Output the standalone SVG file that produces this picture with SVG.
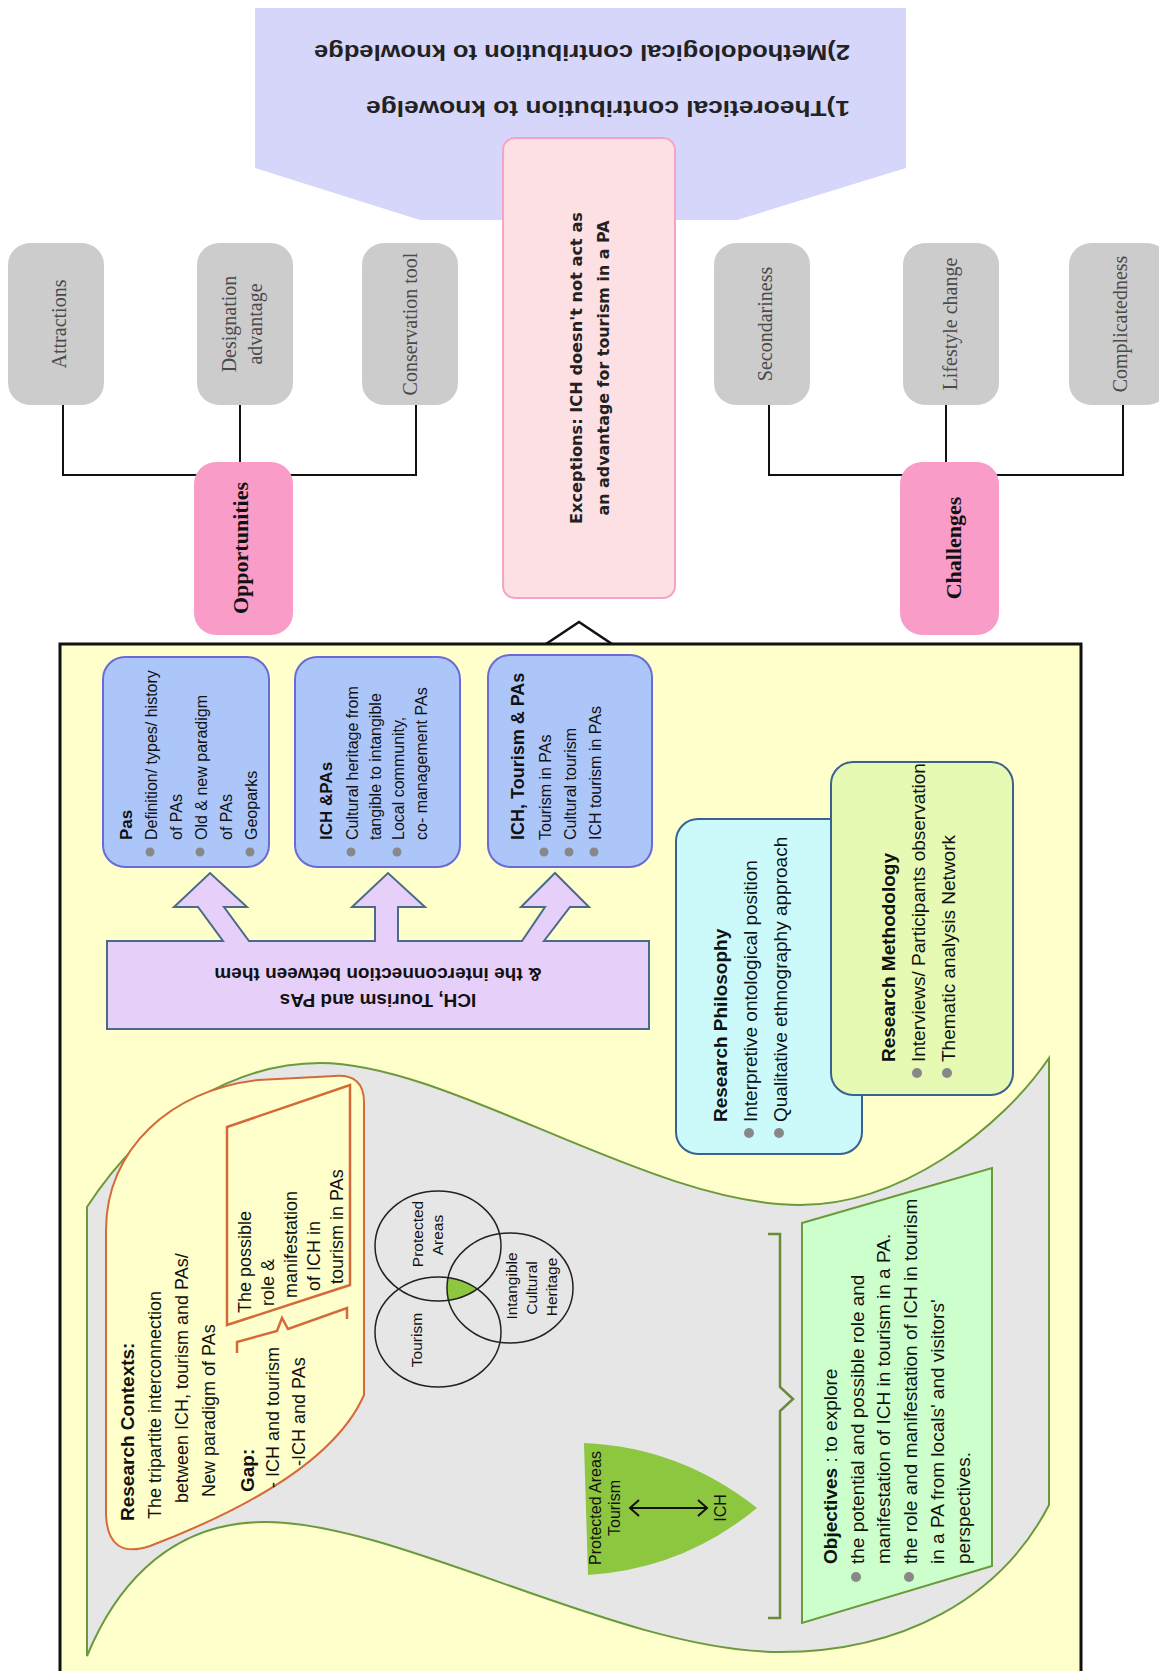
<svg xmlns="http://www.w3.org/2000/svg" width="1159" height="1671" viewBox="0 0 1159 1671">
<style>
.sans{font-family:'Liberation Sans',Arial,sans-serif;fill:#111;}
.b{font-weight:bold;}
.gbox{fill:#cccccc;}
.gtxt{font-family:'Liberation Serif','Times New Roman',serif;font-size:20px;fill:#4a4a4a;text-anchor:middle;}
.pbox{fill:#f99cc8;}
.ptxt{font-family:'Liberation Serif','Times New Roman',serif;font-size:22px;font-weight:bold;fill:#111;text-anchor:middle;}
.wire{fill:none;stroke:#111;stroke-width:2;}
.blue{fill:#adc6fa;stroke:#6a6ad8;stroke-width:2;}
.f16{font-size:16px;}
.f17{font-size:17px;}
.f18{font-size:18px;}
.f19{font-size:19px;}
.f15{font-size:15.5px;}
.mid{text-anchor:middle;}
.bul{fill:#888;}
.exc{font-family:'DejaVu Sans',Verdana,sans-serif;font-size:15px;font-weight:bold;fill:#222;text-anchor:middle;}
.top{font-family:'Liberation Sans',Arial,sans-serif;font-size:22px;font-weight:bold;fill:#222;}
.venn{fill:none;stroke:#222;stroke-width:1.5;}
</style>
<defs>
<marker id="ah" viewBox="0 0 10 10" refX="9" refY="5" markerWidth="6" markerHeight="6" orient="auto"><path d="M0,0 L10,5 L0,10 z" fill="#111"/></marker>
<clipPath id="cT"><ellipse cx="438" cy="1332" rx="63" ry="55"/></clipPath>
<clipPath id="cI"><ellipse cx="510" cy="1288" rx="63" ry="55"/></clipPath>
</defs>
<rect width="1159" height="1671" fill="#ffffff"/>

<!-- contributions banner -->
<g id="n-contributions">
<polygon points="255,8 906,8 906,168 737,220 420,220 255,168" fill="#d6d6fa"/>
<text class="top" transform="translate(850,45) rotate(180)" textLength="536" lengthAdjust="spacingAndGlyphs">2)Methodological contribution to knowledge</text>
<text class="top" transform="translate(850,101) rotate(180)" textLength="484" lengthAdjust="spacingAndGlyphs">1)Theoretical contribution to knowelge</text>
</g>

<!-- connectors -->
<g id="connectors">
<path class="wire" d="M63,405 V475 H416 V405 M240,405 V462"/>
<path class="wire" d="M769,405 V475 H1123 V405 M946,405 V462"/>
<line x1="465" y1="1290" x2="569" y2="1452" stroke="#111" stroke-width="2.5" marker-end="url(#ah)"/>
</g>

<!-- opportunity leaves -->
<g id="n-attractions"><rect class="gbox" x="8" y="243" width="96" height="162" rx="22"/><text class="gtxt" transform="translate(66,324) rotate(-90)">Attractions</text></g>
<g id="n-designation"><rect class="gbox" x="197" y="243" width="96" height="162" rx="22"/><text class="gtxt" transform="translate(236,324) rotate(-90)">Designation</text><text class="gtxt" transform="translate(262,324) rotate(-90)">advantage</text></g>
<g id="n-conservation"><rect class="gbox" x="362" y="243" width="96" height="162" rx="22"/><text class="gtxt" transform="translate(417,324) rotate(-90)">Conservation tool</text></g>
<!-- challenge leaves -->
<g id="n-secondariness"><rect class="gbox" x="714" y="243" width="96" height="162" rx="22"/><text class="gtxt" transform="translate(772,324) rotate(-90)">Secondariness</text></g>
<g id="n-lifestyle"><rect class="gbox" x="903" y="243" width="96" height="162" rx="22"/><text class="gtxt" transform="translate(957,324) rotate(-90)">Lifestyle change</text></g>
<g id="n-complicatedness"><rect class="gbox" x="1069" y="243" width="100" height="162" rx="22"/><text class="gtxt" transform="translate(1127,324) rotate(-90)">Complicatedness</text></g>

<g id="n-opportunities"><rect class="pbox" x="194" y="462" width="99" height="173" rx="22"/><text class="ptxt" transform="translate(248,548) rotate(-90)">Opportunities</text></g>
<g id="n-challenges"><rect class="pbox" x="900" y="462" width="99" height="173" rx="22"/><text class="ptxt" transform="translate(961,548) rotate(-90)">Challenges</text></g>

<g id="n-exceptions">
<rect x="503" y="138" width="172" height="460" rx="12" fill="#fde0e4" stroke="#f5a3c7" stroke-width="2"/>
<text class="exc" transform="translate(582,368) rotate(-90)" textLength="312" lengthAdjust="spacingAndGlyphs">Exceptions: ICH doesn't not act as</text>
<text class="exc" transform="translate(609,368) rotate(-90)" textLength="295" lengthAdjust="spacingAndGlyphs">an advantage for tourism in a PA</text>
</g>

<!-- research framework frame -->
<g id="n-framework">
<polygon points="543,646 579,622 615,646" fill="#ffffff" stroke="#111" stroke-width="2.5"/>
<rect x="60" y="644" width="1021" height="1100" fill="#ffffcc" stroke="#111" stroke-width="3"/>
</g>

<g id="n-interconnection">
<path d="M107,1029 V941 H223 L198,907 H174 L210,873 L247,907 H224 L249,941 H375 V907 H352 L388,873 L425,907 H398 V941 H522 L545,907 H521 L555,873 L589,907 H570 L544,941 H649 V1029 Z" fill="#e6d0fa" stroke="#4a6a8a" stroke-width="2"/>
<text class="sans b f19 mid" transform="translate(378,994) rotate(180)">ICH, Tourism and PAs</text>
<text class="sans b f19 mid" transform="translate(378,968) rotate(180)">&amp; the interconnection between them</text>
</g>

<g id="n-pas">
<rect class="blue" x="103" y="657" width="166" height="210" rx="22"/>
<text class="sans b f17" transform="translate(132,840) rotate(-90)">Pas</text>
<text class="sans f16" transform="translate(156.6,840) rotate(-90)">Definition/ types/ history</text>
<text class="sans f16" transform="translate(181.6,840) rotate(-90)">of PAs</text>
<text class="sans f16" transform="translate(206.6,840) rotate(-90)">Old &amp; new paradigm</text>
<text class="sans f16" transform="translate(231.6,840) rotate(-90)">of PAs</text>
<text class="sans f16" transform="translate(256.6,840) rotate(-90)">Geoparks</text>
<circle class="bul" cx="150" cy="852" r="4.5"/><circle class="bul" cx="200" cy="852" r="4.5"/><circle class="bul" cx="250" cy="852" r="4.5"/>
</g>
<g id="n-ich-pas">
<rect class="blue" x="295" y="657" width="165" height="210" rx="22"/>
<text class="sans b f17" transform="translate(332,840) rotate(-90)">ICH &amp;PAs</text>
<text class="sans f16" transform="translate(357.6,840) rotate(-90)">Cultural heritage from</text>
<text class="sans f16" transform="translate(380.6,840) rotate(-90)">tangible to intangible</text>
<text class="sans f16" transform="translate(403.6,840) rotate(-90)">Local community,</text>
<text class="sans f16" transform="translate(426.6,840) rotate(-90)">co- management PAs</text>
<circle class="bul" cx="351" cy="852" r="4.5"/><circle class="bul" cx="397" cy="852" r="4.5"/>
</g>
<g id="n-ich-tourism-pas">
<rect class="blue" x="488" y="655" width="164" height="212" rx="22"/>
<text class="sans b f18" transform="translate(524.3,840) rotate(-90)">ICH, Tourism &amp; PAs</text>
<text class="sans f16" transform="translate(550.6,840) rotate(-90)">Tourism in PAs</text>
<text class="sans f16" transform="translate(575.6,840) rotate(-90)">Cultural tourism</text>
<text class="sans f16" transform="translate(600.6,840) rotate(-90)">ICH tourism in PAs</text>
<circle class="bul" cx="544" cy="852" r="4.5"/><circle class="bul" cx="569" cy="852" r="4.5"/><circle class="bul" cx="594" cy="852" r="4.5"/>
</g>

<!-- wavy band holding context, venn and objectives -->
<g id="n-band">
<path d="M87,1207 C150,1110 240,1063 320,1063 C450,1063 650,1205 800,1205 C900,1205 1000,1130 1049,1058 L1049,1505 C1000,1600 900,1652 780,1652 C620,1652 400,1522 265,1522 C160,1522 110,1600 87,1656 Z" fill="#e6e6e6" stroke="#6a9a3a" stroke-width="2"/>
</g>

<g id="n-contexts">
<path d="M106,1230 C106,1150 170,1090 258,1080 L335,1076 Q364,1074 364,1102 L364,1395 C340,1450 270,1500 150,1546 Q108,1560 106,1515 Z" fill="#ffffcc" stroke="#d46a3a" stroke-width="2"/>
<polygon points="227,1127 350,1085 350,1285 227,1325" fill="none" stroke="#d46a3a" stroke-width="2.5"/>
<path d="M237,1353 L237,1342 L277,1331 L282,1318 L288,1329 L347,1308 L347,1319" fill="none" stroke="#d46a3a" stroke-width="2.5"/>
<text class="sans b f19" transform="translate(133.6,1521) rotate(-90)">Research Contexts:</text>
<text class="sans f18" transform="translate(161.3,1519) rotate(-90)">The tripartite interconnection</text>
<text class="sans f18" transform="translate(188.3,1503) rotate(-90)">between ICH, tourism and PAs/</text>
<text class="sans f18" transform="translate(215.3,1497) rotate(-90)">New paradigm of PAs</text>
<text class="sans b f19" transform="translate(253.6,1492) rotate(-90)">Gap:</text>
<text class="sans f18" transform="translate(279.3,1488) rotate(-90)">- ICH and tourism</text>
<text class="sans f18" transform="translate(305.3,1466) rotate(-90)">-ICH and PAs</text>
<text class="sans f18" transform="translate(251.3,1313) rotate(-90)">The possible</text>
<text class="sans f18" transform="translate(274.3,1306) rotate(-90)">role &amp;</text>
<text class="sans f18" transform="translate(297.3,1298) rotate(-90)">manifestation</text>
<text class="sans f18" transform="translate(320.3,1291) rotate(-90)">of ICH in</text>
<text class="sans f18" transform="translate(343.3,1284) rotate(-90)">tourism in PAs</text>
</g>

<g id="n-venn">
<g clip-path="url(#cT)"><g clip-path="url(#cI)"><ellipse cx="438" cy="1246" rx="63" ry="55" fill="#8dc63f"/></g></g>
<ellipse class="venn" cx="438" cy="1246" rx="63" ry="55"/>
<ellipse class="venn" cx="438" cy="1332" rx="63" ry="55"/>
<ellipse class="venn" cx="510" cy="1288" rx="63" ry="55"/>
<text class="sans f15 mid" transform="translate(423.4,1234) rotate(-90)">Protected</text>
<text class="sans f15 mid" transform="translate(443.4,1235) rotate(-90)">Areas</text>
<text class="sans f15 mid" transform="translate(422.4,1340) rotate(-90)">Tourism</text>
<text class="sans f15 mid" transform="translate(517.4,1286) rotate(-90)">Intangible</text>
<text class="sans f15 mid" transform="translate(537.4,1288) rotate(-90)">Cultural</text>
<text class="sans f15 mid" transform="translate(557.4,1287) rotate(-90)">Heritage</text>
</g>

<g id="n-overlap">
<path d="M584,1443 Q680,1447 757,1508 Q683,1569 588,1575 Z" fill="#8dc63f"/>
<text class="sans f16 mid" transform="translate(600.6,1508) rotate(-90)">Protected Areas</text>
<text class="sans f16 mid" transform="translate(619.6,1508) rotate(-90)">Tourism</text>
<text class="sans f16 mid" transform="translate(725.6,1508) rotate(-90)">ICH</text>
<path d="M630,1508 H707 M639,1500 L630,1508 L639,1516 M698,1500 L707,1508 L698,1516" fill="none" stroke="#111" stroke-width="2"/>
</g>

<g id="n-brace">
<path d="M768,1234 H780 V1387 L793,1399 L780,1411 V1618 H768" fill="none" stroke="#6a8a3a" stroke-width="2.5"/>
</g>

<g id="n-objectives">
<polygon points="802,1223 992,1168 992,1566 802,1623" fill="#ccffcc" stroke="#6a9a3a" stroke-width="2"/>
<text class="sans f19" transform="translate(836.6,1564) rotate(-90)"><tspan class="b">Objectives</tspan> : to explore</text>
<text class="sans f19" transform="translate(863.6,1564) rotate(-90)">the potential and possible role and</text>
<text class="sans f19" transform="translate(889.6,1564) rotate(-90)">manifestation of ICH in tourism in a PA.</text>
<text class="sans f19" transform="translate(916.6,1564) rotate(-90)">the role and manifestation of ICH in tourism</text>
<text class="sans f19" transform="translate(943.6,1564) rotate(-90)">in a PA from locals' and visitors'</text>
<text class="sans f19" transform="translate(969.6,1564) rotate(-90)">perspectives.</text>
<circle class="bul" cx="856" cy="1577" r="5"/><circle class="bul" cx="909" cy="1577" r="5"/>
</g>

<g id="n-philosophy">
<rect x="676" y="819" width="186" height="335" rx="22" fill="#ccfafa" stroke="#3a6290" stroke-width="2"/>
<text class="sans b f19" transform="translate(726.6,1122) rotate(-90)">Research Philosophy</text>
<text class="sans f19" transform="translate(756.6,1122) rotate(-90)">Interpretive ontological position</text>
<text class="sans f19" transform="translate(786.6,1122) rotate(-90)">Qualitative ethnography approach</text>
<circle class="bul" cx="749" cy="1133" r="5"/><circle class="bul" cx="779" cy="1133" r="5"/>
</g>
<g id="n-methodology">
<rect x="831" y="762" width="182" height="333" rx="22" fill="#e6fab4" stroke="#3a6290" stroke-width="2"/>
<text class="sans b f19" transform="translate(894.6,1062) rotate(-90)">Research Methodology</text>
<text class="sans f19" transform="translate(924.6,1062) rotate(-90)">Interviews/ Participants observation</text>
<text class="sans f19" transform="translate(954.6,1062) rotate(-90)">Thematic analysis Network</text>
<circle class="bul" cx="917" cy="1073" r="5"/><circle class="bul" cx="947" cy="1073" r="5"/>
</g>
</svg>
